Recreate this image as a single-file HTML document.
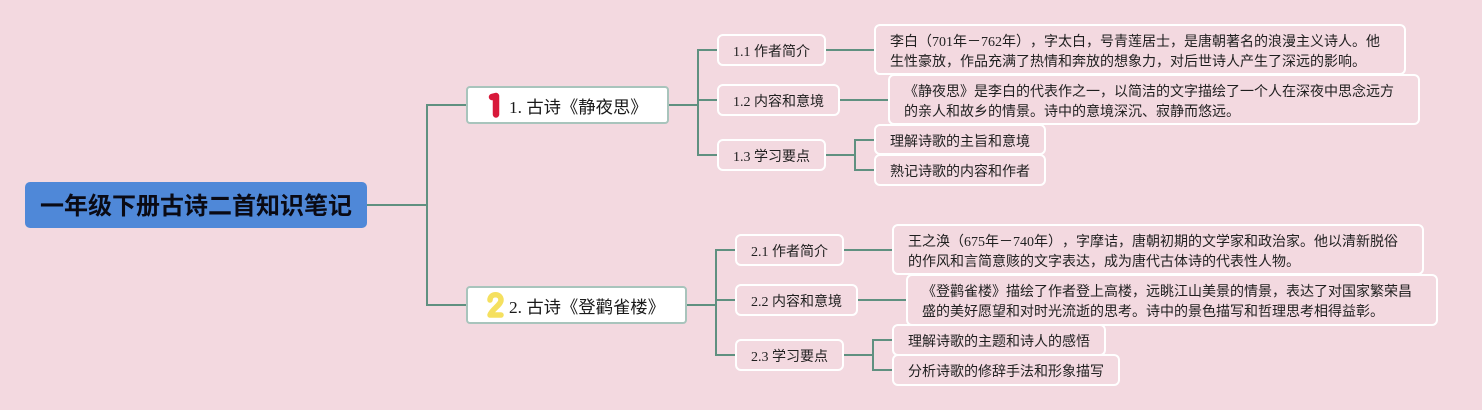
<!DOCTYPE html>
<html lang="zh">
<head>
<meta charset="utf-8">
<style>
html,body{margin:0;padding:0;width:1482px;height:410px;overflow:hidden;background:#f3d9e0}
body{position:relative;font-family:"Liberation Serif","Noto Sans CJK SC",serif;color:#1f1f1f;text-spacing-trim:space-all;font-kerning:none}
svg{position:absolute;left:0;top:0}
.b{position:absolute;box-sizing:border-box;border:2px solid #fff;border-radius:6px;background:#f3d9e0}
.t{position:absolute;white-space:nowrap;font-size:14px;line-height:20px;margin-top:2px}
.root{position:absolute;left:25px;top:182px;width:342px;height:46px;background:#4f88d8;border-radius:5px}
.rt{position:absolute;left:40px;top:191px;font:bold 24px/32px "Liberation Sans","Noto Sans CJK SC",sans-serif;color:#0a0a14;white-space:nowrap}
.br{position:absolute;box-sizing:border-box;background:#fff;border:2px solid #a8c4bc;border-radius:4px}
.bt{position:absolute;white-space:nowrap;font-size:17.33px;line-height:24px;color:#1a1a1a;margin-top:1px}
</style>
</head>
<body>
<svg width="1482" height="410" fill="none" stroke="#5f9080" stroke-width="2">
<path d="M367 205H427M466 105H427V305H466"/>
<path d="M668 105H698M717 50H698V155H717M698 100H717"/>
<path d="M826 50H875M840 100H889M826 155H855M875 140H855V170H875"/>
<path d="M686 305H716M736 250H716V355H736M716 300H736"/>
<path d="M844 250H893M858 300H907M844 355H873M893 340H873V370H893"/>
</svg>

<div class="root"></div>
<div class="rt">一年级下册古诗二首知识笔记</div>

<div class="br" style="left:466px;top:86px;width:203px;height:38px"></div>
<div class="br" style="left:466px;top:286px;width:221px;height:38px"></div>
<svg width="1482" height="410" fill="none" stroke-linecap="round" stroke-linejoin="round">
<path d="M492 97L496 96V114.5" stroke="#d8193a" stroke-width="6.5"/>
<path d="M490 300C490 293 501 293 501 300C501 305 492 309 490 315H501" stroke="#f5e05f" stroke-width="5.5"/>
</svg>
<div class="bt" style="left:509px;top:95px">1. 古诗《静夜思》</div>
<div class="bt" style="left:509px;top:295px">2. 古诗《登鹳雀楼》</div>

<div class="b" style="left:717px;top:34px;width:109px;height:32px"></div>
<div class="t" style="left:733px;top:41px">1.1 作者简介</div>
<div class="b" style="left:717px;top:84px;width:123px;height:32px"></div>
<div class="t" style="left:733px;top:91px">1.2 内容和意境</div>
<div class="b" style="left:717px;top:139px;width:109px;height:32px"></div>
<div class="t" style="left:733px;top:146px">1.3 学习要点</div>

<div class="b" style="left:874px;top:24px;width:532px;height:51px"></div>
<div class="t" style="left:890px;top:31px">李白（701年－762年），字太白，号青莲居士，是唐朝著名的浪漫主义诗人。他</div>
<div class="t" style="left:890px;top:51px">生性豪放，作品充满了热情和奔放的想象力，对后世诗人产生了深远的影响。</div>

<div class="b" style="left:888px;top:74px;width:532px;height:51px"></div>
<div class="t" style="left:904px;top:81px">《静夜思》是李白的代表作之一，以简洁的文字描绘了一个人在深夜中思念远方</div>
<div class="t" style="left:904px;top:101px">的亲人和故乡的情景。诗中的意境深沉、寂静而悠远。</div>

<div class="b" style="left:874px;top:124px;width:172px;height:31px"></div>
<div class="t" style="left:890px;top:131px">理解诗歌的主旨和意境</div>
<div class="b" style="left:874px;top:154px;width:172px;height:32px"></div>
<div class="t" style="left:890px;top:161px">熟记诗歌的内容和作者</div>

<div class="b" style="left:735px;top:234px;width:109px;height:32px"></div>
<div class="t" style="left:751px;top:241px">2.1 作者简介</div>
<div class="b" style="left:735px;top:284px;width:123px;height:32px"></div>
<div class="t" style="left:751px;top:291px">2.2 内容和意境</div>
<div class="b" style="left:735px;top:339px;width:109px;height:32px"></div>
<div class="t" style="left:751px;top:346px">2.3 学习要点</div>

<div class="b" style="left:892px;top:224px;width:532px;height:51px"></div>
<div class="t" style="left:908px;top:231px">王之涣（675年－740年），字摩诘，唐朝初期的文学家和政治家。他以清新脱俗</div>
<div class="t" style="left:908px;top:251px">的作风和言简意赅的文字表达，成为唐代古体诗的代表性人物。</div>

<div class="b" style="left:906px;top:274px;width:532px;height:52px"></div>
<div class="t" style="left:922px;top:281px">《登鹳雀楼》描绘了作者登上高楼，远眺江山美景的情景，表达了对国家繁荣昌</div>
<div class="t" style="left:922px;top:301px">盛的美好愿望和对时光流逝的思考。诗中的景色描写和哲理思考相得益彰。</div>

<div class="b" style="left:892px;top:324px;width:214px;height:32px"></div>
<div class="t" style="left:908px;top:331px">理解诗歌的主题和诗人的感悟</div>
<div class="b" style="left:892px;top:354px;width:228px;height:32px"></div>
<div class="t" style="left:908px;top:361px">分析诗歌的修辞手法和形象描写</div>
</body>
</html>
